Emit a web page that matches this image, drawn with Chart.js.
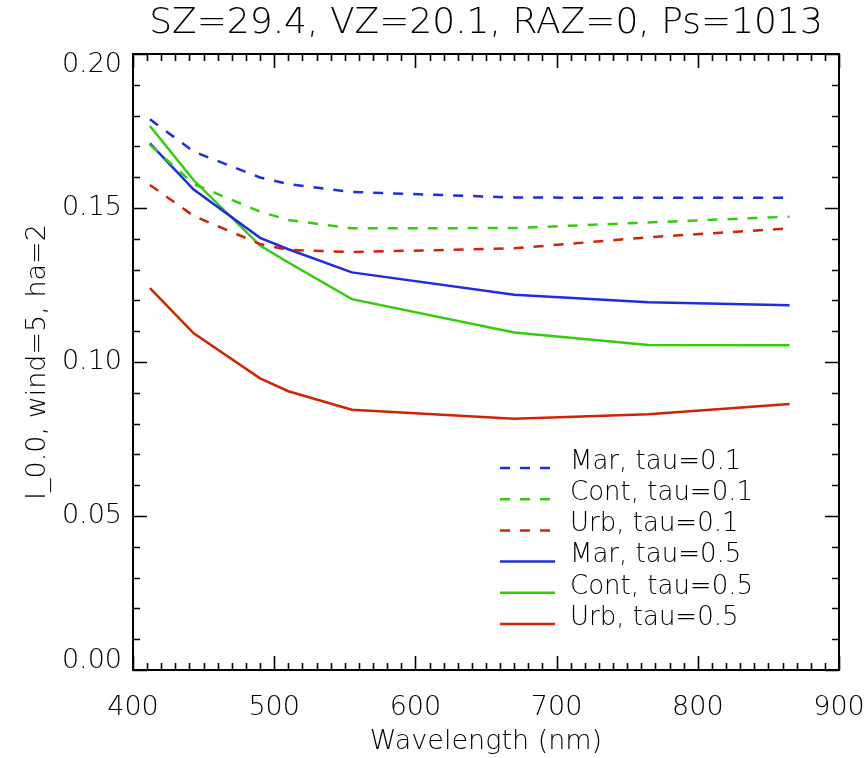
<!DOCTYPE html>
<html lang="en">
<head>
    <meta charset="UTF-8">
    <title>SZ=29.4, VZ=20.1, RAZ=0, Ps=1013</title>
    <style>
        body { margin: 0; background: #fff; }
        #wrap { width: 867px; height: 758px; }
    </style>
</head>
<body>
    <div id="wrap">
        <canvas id="myChart"></canvas>
    </div>

    <script src="https://cdn.jsdelivr.net/npm/chart.js"></script>

    <script>
        // wavelengths (nm) of the computed points
        const wavelengths = [412, 443, 490, 510, 555, 670, 765, 865];

        // values
        const marTau01  = [0.1788, 0.1683, 0.1599, 0.1578, 0.1552, 0.1534, 0.1533, 0.1533];
        const contTau01 = [0.1705, 0.1578, 0.1488, 0.1461, 0.1434, 0.1435, 0.1453, 0.1472];
        const urbTau01  = [0.1575, 0.1474, 0.1383, 0.1364, 0.1357, 0.1369, 0.1405, 0.1434];
        const marTau05  = [0.1710, 0.1560, 0.1403, 0.1366, 0.1291, 0.1218, 0.1194, 0.1184];
        const contTau05 = [0.1766, 0.1590, 0.1378, 0.1323, 0.1204, 0.1096, 0.1055, 0.1054];
        const urbTau05  = [0.1240, 0.1093, 0.0947, 0.0905, 0.0845, 0.0816, 0.0830, 0.0864];

        const seriesLabels = ['Mar, tau=0.1', 'Cont, tau=0.1', 'Urb, tau=0.1',
                              'Mar, tau=0.5', 'Cont, tau=0.5', 'Urb, tau=0.5'];

        const chartTitle = 'SZ=29.4, VZ=20.1, RAZ=0, Ps=1013';
        const xTickValues = [400, 500, 600, 700, 800, 900];
        const yTickValues = [0.00, 0.05, 0.10, 0.15, 0.20];
        const xMinorStep = 10;
        const yMinorStep = 0.01;

        const BLUE = 'rgb(30, 45, 225)';
        const GREEN = 'rgb(50, 205, 10)';
        const RED = 'rgb(210, 35, 0)';
        const FONT = "'DejaVu Sans', sans-serif";

        function pts(arr) {
            return wavelengths.map((w, i) => ({ x: w, y: arr[i] }));
        }

        function line(label, arr, color, dashed) {
            return {
                label: label,
                data: pts(arr),
                borderColor: color,
                borderWidth: 2.5,
                borderDash: dashed ? [10, 10] : [],
                pointRadius: 0,
                tension: 0,
                fill: false
            };
        }

        // title over the plot box, frame, inward ticks on all sides, legend
        const framePlugin = {
            id: 'frame',
            afterDatasetsDraw(chart) {
                const { ctx, chartArea: a, scales: { x, y } } = chart;
                ctx.save();

                ctx.fillStyle = '#000';
                ctx.font = '300 36px ' + FONT;
                ctx.textAlign = 'center';
                ctx.textBaseline = 'middle';
                ctx.fillText(chartTitle, (a.left + a.right) / 2, 24);

                ctx.strokeStyle = '#000';
                ctx.lineWidth = 1.6;
                ctx.setLineDash([]);
                ctx.beginPath();
                for (let v = xTickValues[0]; v <= xTickValues[xTickValues.length - 1] + 0.001; v += xMinorStep) {
                    const px = Math.round(x.getPixelForValue(v)) + 0.5;
                    const len = Math.abs(v % 100) < 0.001 ? 14 : 7;
                    ctx.moveTo(px, a.bottom); ctx.lineTo(px, a.bottom - len);
                    ctx.moveTo(px, a.top); ctx.lineTo(px, a.top + len);
                }
                for (let k = 0; k <= 20; k++) {
                    const v = k * yMinorStep;
                    const py = Math.round(y.getPixelForValue(v)) + 0.5;
                    const len = k % 5 === 0 ? 14 : 7;
                    ctx.moveTo(a.left, py); ctx.lineTo(a.left + len, py);
                    ctx.moveTo(a.right, py); ctx.lineTo(a.right - len, py);
                }
                ctx.stroke();
                ctx.lineWidth = 2;
                ctx.strokeRect(a.left, a.top, a.right - a.left, a.bottom - a.top);

                // legend
                ctx.font = '300 26px ' + FONT;
                ctx.textBaseline = 'middle';
                ctx.textAlign = 'left';
                chart.data.datasets.forEach((ds, i) => {
                    const ty = 462 + i * 31.2;
                    ctx.strokeStyle = ds.borderColor;
                    ctx.lineWidth = 2.5;
                    ctx.setLineDash(ds.borderDash);
                    ctx.beginPath();
                    ctx.moveTo(500, ty + 6);
                    ctx.lineTo(ds.borderDash.length ? 551 : 555, ty + 6);
                    ctx.stroke();
                    ctx.fillStyle = '#000';
                    ctx.fillText(ds.label, 570, ty);
                });
                ctx.restore();
            }
        };

        const ctx = document.getElementById('myChart');

        new Chart(ctx, {
            type: 'line',
            data: {
                datasets: [
                    line(seriesLabels[0], marTau01, BLUE, true),
                    line(seriesLabels[1], contTau01, GREEN, true),
                    line(seriesLabels[2], urbTau01, RED, true),
                    line(seriesLabels[3], marTau05, BLUE, false),
                    line(seriesLabels[4], contTau05, GREEN, false),
                    line(seriesLabels[5], urbTau05, RED, false)
                ]
            },
            options: {
                responsive: true,
                maintainAspectRatio: false,
                animation: false,
                layout: { padding: { left: 0, right: 28, top: 54, bottom: 0 } },
                plugins: {
                    legend: { display: false },
                    tooltip: { enabled: false },
                    title: { display: false }
                },
                scales: {
                    x: {
                        type: 'linear',
                        min: 400,
                        max: 900,
                        grid: { display: false, drawTicks: false },
                        border: { display: false },
                        afterBuildTicks: s => { s.ticks = xTickValues.map(v => ({ value: v })); },
                        afterFit: s => { s.height = 88; s.paddingLeft = 0; s.paddingRight = 0; },
                        ticks: {
                            color: '#000',
                            padding: 22,
                            maxRotation: 0,
                            font: { family: FONT, size: 27, weight: '300' }
                        },
                        title: {
                            display: true,
                            text: 'Wavelength (nm)',
                            color: '#000',
                            font: { family: FONT, size: 27, weight: '300', lineHeight: 1.2 },
                            padding: { top: 0, bottom: 0 }
                        }
                    },
                    y: {
                        min: 0,
                        max: 0.2,
                        grid: { display: false, drawTicks: false },
                        border: { display: false },
                        afterBuildTicks: s => { s.ticks = yTickValues.map(v => ({ value: v })); },
                        afterFit: s => { s.width = 133; s.paddingTop = 0; s.paddingBottom = 0; },
                        ticks: {
                            color: '#000',
                            padding: 11,
                            // end labels sit inside the frame like the original
                            callback: v => v === 0.2 ? ['', '0.20'] : (v === 0 ? ['0.00', ''] : v.toFixed(2)),
                            font: c => ({
                                family: FONT, size: 27, weight: '300',
                                lineHeight: c.tick && c.tick.value === 0.2 ? '22px' : (c.tick && c.tick.value === 0 ? '18px' : 1.2)
                            })
                        },
                        title: {
                            display: true,
                            text: 'I_0.0, wind=5, ha=2',
                            color: '#000',
                            font: { family: FONT, size: 27, weight: '300', lineHeight: 1.2 },
                            padding: { top: 22, bottom: 0 }
                        }
                    }
                }
            },
            plugins: [framePlugin]
        });
    </script>
</body>
</html>
